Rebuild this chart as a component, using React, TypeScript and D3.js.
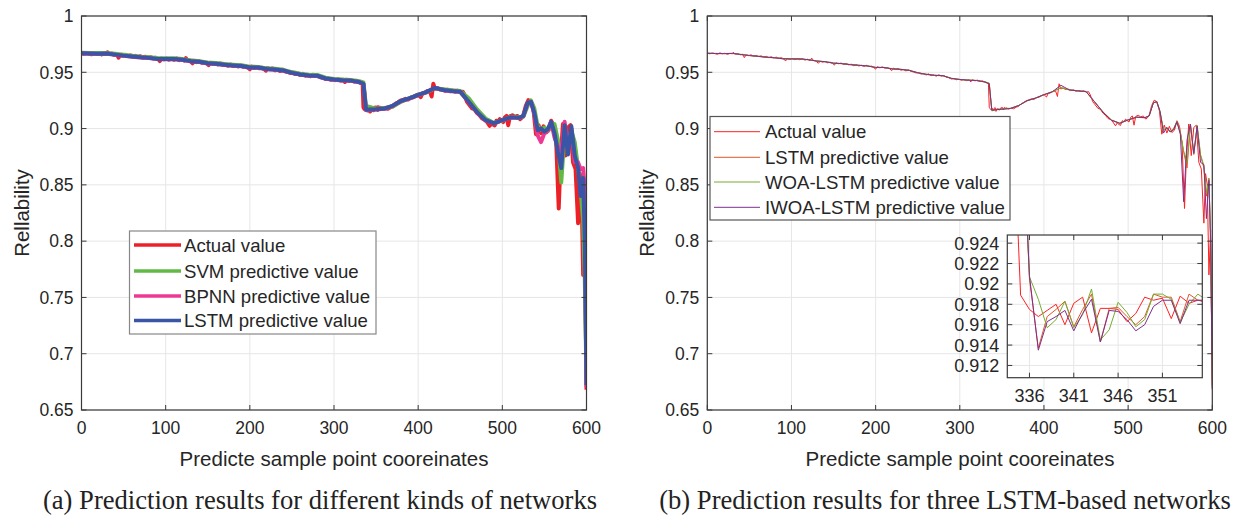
import React from "react";
import * as d3 from "d3";

// ---------------- DATA ----------------
const xTicks = [0, 100, 200, 300, 400, 500, 600];
const yTicks = [0.65, 0.7, 0.75, 0.8, 0.85, 0.9, 0.95, 1];
const insetXTicks = [336, 341, 346, 351];
const insetYTicks = [0.912, 0.914, 0.916, 0.918, 0.92, 0.922, 0.924];

// actual reliability: [sample index, value]
const actualSeries: [number, number][] = [
  [0, 0.9672], [3, 0.9664], [6, 0.9671], [9, 0.9666], [12, 0.966], [15, 0.9672], [18, 0.9665], [21, 0.9669],
  [24, 0.9659], [27, 0.9668], [30, 0.9664], [31, 0.9678], [33, 0.9662], [36, 0.9666], [39, 0.9655], [42, 0.9661],
  [44, 0.963], [46, 0.9654], [49, 0.9648], [52, 0.9655], [55, 0.9644], [58, 0.965], [61, 0.964], [64, 0.9646],
  [67, 0.9636], [70, 0.9642], [73, 0.963], [76, 0.9638], [79, 0.9628], [82, 0.9634], [85, 0.9624], [88, 0.963],
  [91, 0.9618], [93, 0.96], [95, 0.9622], [98, 0.9614], [101, 0.9622], [104, 0.9612], [107, 0.962], [110, 0.9611],
  [113, 0.9622], [116, 0.9608], [119, 0.9616], [122, 0.9604], [124, 0.9626], [126, 0.9606], [129, 0.96], [132, 0.958],
  [134, 0.9598], [137, 0.959], [140, 0.9597], [143, 0.9584], [146, 0.959], [149, 0.9578], [151, 0.9564], [153, 0.9584],
  [156, 0.9576], [159, 0.9582], [162, 0.957], [165, 0.9578], [168, 0.9566], [171, 0.9572], [174, 0.9558], [177, 0.9568],
  [180, 0.9556], [183, 0.9562], [186, 0.9552], [189, 0.9562], [192, 0.955], [195, 0.9555], [198, 0.954], [200, 0.9528],
  [202, 0.955], [205, 0.954], [208, 0.9547], [211, 0.9536], [214, 0.9541], [217, 0.953], [219, 0.9514], [221, 0.9537],
  [224, 0.9528], [227, 0.9534], [230, 0.9518], [233, 0.9525], [236, 0.9512], [239, 0.9522], [242, 0.9508], [245, 0.9503],
  [248, 0.9494], [251, 0.9497], [254, 0.9484], [257, 0.9488], [260, 0.9476], [263, 0.9486], [266, 0.947], [269, 0.9476],
  [272, 0.9465], [275, 0.9478], [278, 0.9466], [281, 0.947], [284, 0.9456], [287, 0.9452], [290, 0.944], [293, 0.9444],
  [296, 0.9434], [299, 0.9438], [302, 0.943], [305, 0.9437], [308, 0.9426], [311, 0.9434], [313, 0.9414], [315, 0.9434],
  [318, 0.9424], [321, 0.943], [324, 0.9418], [327, 0.9424], [330, 0.9412], [332, 0.9406], [334, 0.94], [335, 0.9189],
  [336, 0.9175], [337, 0.9168], [338, 0.9174], [339, 0.918], [340, 0.916], [341, 0.9181], [342, 0.9187], [343, 0.9152],
  [344, 0.9176], [345, 0.9176], [346, 0.9175], [347, 0.9163], [348, 0.9171], [349, 0.9187], [350, 0.9184], [351, 0.9186],
  [352, 0.9166], [353, 0.9188], [354, 0.9181], [355, 0.9184], [356, 0.9182], [358, 0.9174], [361, 0.9182], [364, 0.9176],
  [367, 0.919], [370, 0.9198], [373, 0.922], [376, 0.9232], [379, 0.9248], [382, 0.9254], [385, 0.9264], [388, 0.9258],
  [391, 0.9274], [394, 0.9278], [397, 0.9292], [400, 0.9302], [403, 0.928], [405, 0.9312], [408, 0.9318], [411, 0.9334],
  [414, 0.933], [416, 0.9285], [418, 0.9398], [420, 0.9352], [423, 0.936], [426, 0.9346], [429, 0.935], [432, 0.9336],
  [435, 0.9344], [438, 0.9332], [441, 0.9338], [444, 0.9328], [447, 0.9336], [450, 0.9324], [453, 0.9328], [455, 0.93],
  [458, 0.9238], [461, 0.921], [464, 0.918], [467, 0.9172], [470, 0.9138], [473, 0.9118], [476, 0.909], [479, 0.908],
  [482, 0.9058], [485, 0.9024], [487, 0.905], [489, 0.9036], [491, 0.9028], [493, 0.907], [495, 0.9062], [497, 0.9084],
  [499, 0.907], [501, 0.9058], [503, 0.91], [505, 0.9112], [507, 0.903], [509, 0.9108], [512, 0.9118], [515, 0.9104],
  [518, 0.9112], [521, 0.9084], [523, 0.9096], [525, 0.912], [528, 0.9205], [531, 0.9252], [534, 0.924], [537, 0.917],
  [540, 0.895], [543, 0.903], [546, 0.896], [549, 0.902], [552, 0.8965], [555, 0.8985], [558, 0.907], [561, 0.902],
  [564, 0.888], [567, 0.829], [569, 0.87], [572, 0.904], [575, 0.876], [578, 0.901], [581, 0.903], [584, 0.87],
  [587, 0.864], [590, 0.816], [592, 0.86], [594, 0.85], [596, 0.77], [598, 0.81], [600, 0.668],
];

// sample indices of the predicted series
const predIdx = [
  0, 10, 20, 30, 40, 50, 60, 70, 80, 90, 100, 110, 120, 130, 140, 150, 160, 170, 180, 190, 200, 210, 220, 230, 240,
  250, 260, 270, 280, 290, 300, 310, 320, 330, 335, 338, 350, 360, 370, 380, 390, 400, 410, 420, 430, 440, 450, 460,
  470, 480, 490, 500, 510, 520, 525, 530, 534, 538, 542, 546, 550, 554, 558, 562, 566, 570, 574, 578, 582, 586, 590,
  593, 596, 598, 600,
];

const lstmPred = [
  0.9668, 0.9666, 0.9665, 0.9667, 0.9657, 0.9648, 0.9641, 0.9633, 0.9628, 0.9619, 0.9618, 0.9618, 0.9611, 0.9599,
  0.9593, 0.958, 0.9576, 0.9567, 0.9561, 0.9556, 0.9542, 0.9542, 0.9529, 0.9525, 0.9516, 0.9495, 0.9481, 0.9472,
  0.9469, 0.9445, 0.9435, 0.9429, 0.9426, 0.9413, 0.9398, 0.9168, 0.9172, 0.9178, 0.9204, 0.9247, 0.927, 0.93,
  0.9326, 0.9362, 0.9343, 0.9334, 0.9328, 0.9238, 0.9146, 0.9074, 0.9046, 0.9076, 0.91, 0.9096, 0.9112, 0.9228,
  0.9238, 0.914, 0.8985, 0.9, 0.8972, 0.8995, 0.906, 0.896, 0.879, 0.865, 0.903, 0.877, 0.902, 0.876, 0.865, 0.84,
  0.856, 0.8, 0.672,
];

const svmPred = [
  0.9674, 0.9672, 0.9671, 0.9672, 0.9664, 0.9655, 0.9647, 0.9639, 0.9634, 0.9626, 0.9624, 0.9624, 0.9617, 0.9606,
  0.9599, 0.9587, 0.9582, 0.9573, 0.9567, 0.9562, 0.9549, 0.9548, 0.9535, 0.9532, 0.9522, 0.9502, 0.9487, 0.9479,
  0.9476, 0.9452, 0.9441, 0.9435, 0.9432, 0.942, 0.941, 0.92, 0.9176, 0.9182, 0.9196, 0.924, 0.927, 0.9298, 0.9322,
  0.9358, 0.935, 0.934, 0.9334, 0.927, 0.917, 0.909, 0.905, 0.9072, 0.9104, 0.91, 0.9105, 0.92, 0.925, 0.918, 0.902,
  0.899, 0.901, 0.898, 0.904, 0.904, 0.89, 0.852, 0.896, 0.89, 0.898, 0.888, 0.865, 0.845, 0.818, 0.765, 0.675,
];

const bpnnPred = [
  0.9666, 0.9664, 0.9663, 0.9665, 0.9655, 0.9646, 0.9639, 0.9631, 0.9626, 0.9617, 0.9616, 0.9616, 0.9609, 0.9597,
  0.9591, 0.9578, 0.9574, 0.9565, 0.9559, 0.9554, 0.954, 0.954, 0.9527, 0.9523, 0.9514, 0.9493, 0.9479, 0.947,
  0.9467, 0.9443, 0.9433, 0.9427, 0.9424, 0.9411, 0.9396, 0.9166, 0.917, 0.9176, 0.9202, 0.9245, 0.9268, 0.9298,
  0.9324, 0.936, 0.9341, 0.9332, 0.9326, 0.9236, 0.9144, 0.9072, 0.9044, 0.9074, 0.9098, 0.9094, 0.911, 0.9226,
  0.9236, 0.913, 0.894, 0.888, 0.896, 0.8985, 0.906, 0.892, 0.884, 0.88, 0.906, 0.88, 0.9, 0.87, 0.87, 0.864, 0.865,
  0.845, 0.67,
];

const woaPred = [
  0.967, 0.9668, 0.9667, 0.9668, 0.9659, 0.965, 0.9643, 0.9635, 0.963, 0.9621, 0.962, 0.962, 0.9613, 0.9601, 0.9595,
  0.9582, 0.9578, 0.9569, 0.9563, 0.9558, 0.9544, 0.9544, 0.9531, 0.9527, 0.9518, 0.9497, 0.9483, 0.9474, 0.9471,
  0.9447, 0.9437, 0.9431, 0.9428, 0.9415, 0.9405, 0.9157, 0.9178, 0.918, 0.9206, 0.9246, 0.9272, 0.9302, 0.9328,
  0.9364, 0.9345, 0.9336, 0.933, 0.924, 0.915, 0.9078, 0.9048, 0.9078, 0.9102, 0.9098, 0.9114, 0.923, 0.924, 0.915,
  0.899, 0.901, 0.8975, 0.9, 0.9065, 0.8965, 0.88, 0.87, 0.904, 0.878, 0.903, 0.877, 0.867, 0.842, 0.855, 0.802, 0.67,
];

const iwoaPred = [
  0.9669, 0.9667, 0.9666, 0.9668, 0.9658, 0.9649, 0.9642, 0.9634, 0.9629, 0.962, 0.9619, 0.9619, 0.9612, 0.96,
  0.9594, 0.9581, 0.9577, 0.9568, 0.9562, 0.9557, 0.9543, 0.9543, 0.953, 0.9526, 0.9517, 0.9496, 0.9482, 0.9473,
  0.947, 0.9446, 0.9436, 0.943, 0.9427, 0.9414, 0.9398, 0.9163, 0.9172, 0.9178, 0.9205, 0.9248, 0.9271, 0.9301,
  0.9327, 0.9385, 0.9344, 0.9335, 0.9329, 0.9239, 0.9147, 0.9075, 0.9047, 0.9077, 0.9101, 0.9097, 0.9113, 0.9229,
  0.9239, 0.915, 0.896, 0.901, 0.897, 0.899, 0.906, 0.895, 0.835, 0.89, 0.904, 0.878, 0.902, 0.87, 0.868, 0.82, 0.854,
  0.8, 0.669,
];

// inset (zoomed) series, per sample
const insetIdx = [334, 335, 336, 337, 338, 339, 340, 341, 342, 343, 344, 345, 346, 347, 348, 349, 350, 351, 352, 353, 354, 355, 356];
const insetActual = [0.94, 0.9189, 0.9175, 0.9168, 0.9174, 0.918, 0.916, 0.9181, 0.9187, 0.9152, 0.9176, 0.9176, 0.9175, 0.9163, 0.9171, 0.9187, 0.9184, 0.9186, 0.9166, 0.9188, 0.9181, 0.9184, 0.9182];
const insetLstm = [0.9405, 0.94, 0.9205, 0.9137, 0.9168, 0.9175, 0.9183, 0.9158, 0.9175, 0.919, 0.9143, 0.9176, 0.9177, 0.9168, 0.916, 0.9168, 0.919, 0.9187, 0.9187, 0.9163, 0.919, 0.9184, 0.9183];
const insetWoa = [0.9408, 0.9405, 0.9207, 0.9185, 0.9157, 0.9165, 0.9183, 0.9157, 0.917, 0.9195, 0.9145, 0.9155, 0.9182, 0.9172, 0.9158, 0.9165, 0.919, 0.919, 0.9185, 0.9162, 0.918, 0.919, 0.9184];
const insetIwoa = [0.9402, 0.9398, 0.9208, 0.9135, 0.9163, 0.9168, 0.9174, 0.9154, 0.9171, 0.9185, 0.9143, 0.9174, 0.9173, 0.9165, 0.9154, 0.916, 0.9178, 0.9184, 0.9184, 0.9161, 0.9184, 0.9184, 0.9184];

const leftNames = ["Actual value", "SVM predictive value", "BPNN predictive value", "LSTM predictive value"];
const rightNames = ["Actual value", "LSTM predictive value", "WOA-LSTM predictive value", "IWOA-LSTM predictive value"];
const xTitle = "Predicte sample point cooreinates";
const yTitle = "Rellability";
const captionA = "(a) Prediction results for different kinds of networks";
const captionB = "(b) Prediction results for three LSTM-based networks";

// ---------------- STYLE ----------------
const SANS = '"Liberation Sans", Arial, Helvetica, sans-serif';
const SERIF = '"Liberation Serif", "Times New Roman", Times, serif';
const AXIS = "#3a3a3a";
const GRID = "#e6e6e6";

type Ser = { pts: [number, number][]; color: string; width: number };

const zip = (xs: number[], ys: number[]): [number, number][] => xs.map((x, i) => [x, ys[i]]);

function Axes(props: {
  id: string;
  x0: number; x1: number; y0: number; y1: number;
  xDomain: [number, number]; yDomain: [number, number];
  xt: number[]; yt: number[];
  fmt: (v: number) => string;
  series: Ser[];
  fontSize: number;
  bg?: boolean;
}) {
  const { id, x0, x1, y0, y1, xDomain, yDomain, xt, yt, fmt, series, fontSize, bg } = props;
  const x = d3.scaleLinear().domain(xDomain).range([x0, x1]);
  const y = d3.scaleLinear().domain(yDomain).range([y1, y0]);
  const line = d3.line<[number, number]>().x((d) => x(d[0])).y((d) => y(d[1]));
  const tl = 5;
  return (
    <g>
      <defs>
        <clipPath id={id}>
          <rect x={x0} y={y0} width={x1 - x0} height={y1 - y0} />
        </clipPath>
      </defs>
      {bg && <rect x={x0} y={y0} width={x1 - x0} height={y1 - y0} fill="#fff" />}
      {xt.map((t) => (
        <line key={"gx" + t} x1={x(t)} x2={x(t)} y1={y0} y2={y1} stroke={GRID} strokeWidth={1} />
      ))}
      {yt.map((t) => (
        <line key={"gy" + t} x1={x0} x2={x1} y1={y(t)} y2={y(t)} stroke={GRID} strokeWidth={1} />
      ))}
      <g clipPath={`url(#${id})`}>
        {series.map((s, i) => (
          <path key={i} d={line(s.pts) || ""} fill="none" stroke={s.color} strokeWidth={s.width} strokeLinejoin="round" />
        ))}
      </g>
      <rect x={x0} y={y0} width={x1 - x0} height={y1 - y0} fill="none" stroke={AXIS} strokeWidth={1.2} />
      {xt.map((t) => (
        <g key={"tx" + t}>
          <line x1={x(t)} x2={x(t)} y1={y1} y2={y1 - tl} stroke={AXIS} />
          <line x1={x(t)} x2={x(t)} y1={y0} y2={y0 + tl} stroke={AXIS} />
          <text x={x(t)} y={y1 + 24} textAnchor="middle" fontFamily={SANS} fontSize={fontSize} fill="#262626">
            {t}
          </text>
        </g>
      ))}
      {yt.map((t) => (
        <g key={"ty" + t}>
          <line x1={x0} x2={x0 + tl} y1={y(t)} y2={y(t)} stroke={AXIS} />
          <line x1={x1} x2={x1 - tl} y1={y(t)} y2={y(t)} stroke={AXIS} />
          <text x={x0 - 8} y={y(t)} dy="0.36em" textAnchor="end" fontFamily={SANS} fontSize={fontSize} fill="#262626">
            {fmt(t)}
          </text>
        </g>
      ))}
    </g>
  );
}

function Legend(props: { x: number; y: number; w: number; h: number; rows: number[]; names: string[]; colors: string[]; lw: number; lx0: number; lx1: number; tx: number; border: string }) {
  const { x, y, w, h, rows, names, colors, lw, lx0, lx1, tx, border } = props;
  return (
    <g>
      <rect x={x} y={y} width={w} height={h} fill="#fff" stroke={border} strokeWidth={1.2} />
      {names.map((n, i) => (
        <g key={n}>
          <line x1={lx0} x2={lx1} y1={rows[i]} y2={rows[i]} stroke={colors[i]} strokeWidth={lw} />
          <text x={tx} y={rows[i]} dy="0.36em" fontFamily={SANS} fontSize={18.6} fill="#262626">
            {n}
          </text>
        </g>
      ))}
    </g>
  );
}

export default function App() {
  const fmt = (v: number) => String(+v.toFixed(3));
  const leftColors = ["#ee2027", "#62b946", "#ec3a92", "#3b55a6"];
  const rightColors = ["#ff2020", "#e2572b", "#77ac30", "#7e2f8e"];

  const leftSeries: Ser[] = [
    { pts: actualSeries, color: leftColors[0], width: 4 },
    { pts: zip(predIdx, svmPred), color: leftColors[1], width: 4 },
    { pts: zip(predIdx, bpnnPred), color: leftColors[2], width: 4 },
    { pts: zip(predIdx, lstmPred), color: leftColors[3], width: 4 },
  ];
  const rightSeries: Ser[] = [
    { pts: actualSeries, color: rightColors[0], width: 1 },
    { pts: zip(predIdx, lstmPred), color: rightColors[1], width: 1 },
    { pts: zip(predIdx, woaPred), color: rightColors[2], width: 1 },
    { pts: zip(predIdx, iwoaPred), color: rightColors[3], width: 1 },
  ];
  const insetSeries: Ser[] = [
    { pts: zip(insetIdx, insetActual), color: rightColors[0], width: 1 },
    { pts: zip(insetIdx, insetLstm), color: rightColors[1], width: 1 },
    { pts: zip(insetIdx, insetWoa), color: rightColors[2], width: 1 },
    { pts: zip(insetIdx, insetIwoa), color: rightColors[3], width: 1 },
  ];

  return (
    <svg width={1236} height={516} style={{ position: "absolute", left: 0, top: 0, background: "#fff" }}>
      <rect x={0} y={0} width={1236} height={516} fill="#fff" />
      {/* Left panel */}
      <Axes id="clipL" x0={81.5} x1={586.5} y0={16} y1={410} xDomain={[0, 600]} yDomain={[0.65, 1]} xt={xTicks} yt={yTicks} fmt={fmt} series={leftSeries} fontSize={17.5} />
      <Legend x={129.5} y={231} w={246.5} h={103} rows={[245, 271, 296, 320.5]} names={leftNames} colors={leftColors} lw={3.6} lx0={134} lx1={181} tx={184} border="#888" />
      <text x={334} y={466} textAnchor="middle" fontFamily={SANS} fontSize={20.5} fill="#262626">{xTitle}</text>
      <text transform="translate(29,213) rotate(-90)" textAnchor="middle" fontFamily={SANS} fontSize={20.5} fill="#262626">{yTitle}</text>
      <text x={320} y={509} textAnchor="middle" fontFamily={SERIF} fontSize={26.6} fill="#222">{captionA}</text>

      {/* Right panel */}
      <Axes id="clipR" x0={707.3} x1={1212.3} y0={16} y1={410} xDomain={[0, 600]} yDomain={[0.65, 1]} xt={xTicks} yt={yTicks} fmt={fmt} series={rightSeries} fontSize={17.5} />
      <Legend x={710} y={116.5} w={300} h={103.5} rows={[131.7, 157.3, 182, 207.3]} names={rightNames} colors={rightColors} lw={1} lx0={714} lx1={760} tx={765} border="#555" />
      <Axes id="clipI" x0={1007.3} x1={1202.3} y0={235} y1={377.7} xDomain={[333.5, 355.5]} yDomain={[0.9108, 0.9248]} xt={insetXTicks} yt={insetYTicks} fmt={fmt} series={insetSeries} fontSize={18} bg />
      <text x={960} y={466} textAnchor="middle" fontFamily={SANS} fontSize={20.5} fill="#262626">{xTitle}</text>
      <text transform="translate(654,213) rotate(-90)" textAnchor="middle" fontFamily={SANS} fontSize={20.5} fill="#262626">{yTitle}</text>
      <text x={945} y={509} textAnchor="middle" fontFamily={SERIF} fontSize={26.6} fill="#222">{captionB}</text>
    </svg>
  );
}
